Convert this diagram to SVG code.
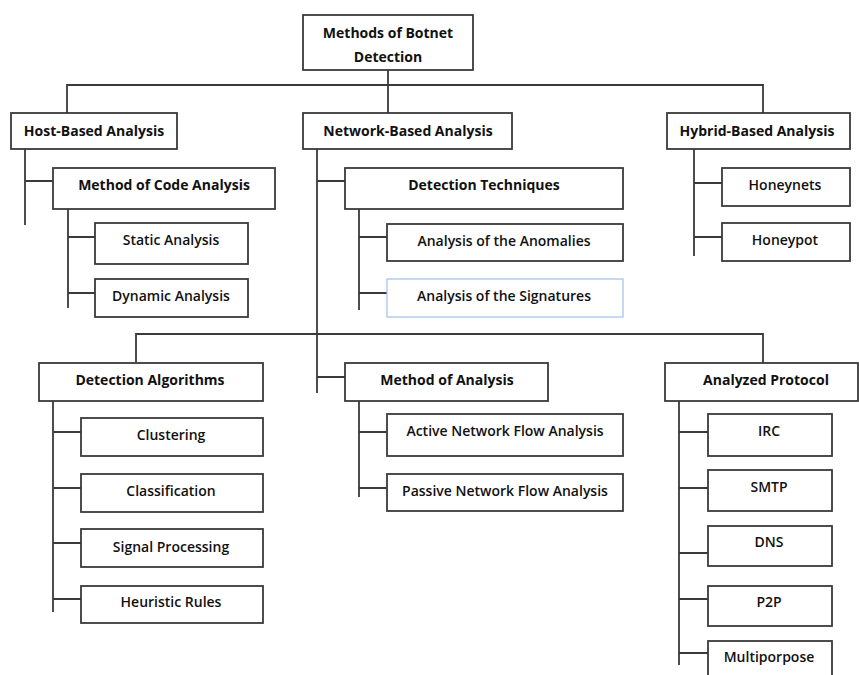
<svg xmlns="http://www.w3.org/2000/svg" width="859" height="675" viewBox="0 0 859 675">
<style>
.b{fill:#fff;stroke:#3a3a3a;stroke-width:1.8}
.s{fill:#fff;stroke:#9cc2e8;stroke-width:1.2}
.c{fill:none;stroke:#3a3a3a;stroke-width:1.8}
text{font-family:"Open Sans","Liberation Sans",sans-serif;font-size:14px;fill:#111;text-anchor:middle}
.h{font-weight:700}
.l{font-weight:600}
</style>
<rect width="859" height="675" fill="#fff"/>
<g id="connectors">
<path class="c" d="M388 70V113M67 113V85H763V113"/>
<path class="c" d="M25 149V225M25 181H53M68 209V308M68 237H95M68 293H95"/>
<path class="c" d="M317 149V393M317 181H345M359 209V310M359 237H387M359 293H387"/>
<path class="c" d="M694 149V256M694 183H722M694 237H722"/>
<path class="c" d="M136 363V334H763V363M317 377H345"/>
<path class="c" d="M53 401V612M53 432H81M53 488H81M53 543H81M53 599H81"/>
<path class="c" d="M359 401V497M359 432H387M359 488H387"/>
<path class="c" d="M679 401V665M679 432H708M679 488H708M679 553H708M679 599H708M679 653H708"/>
</g>
<g id="root"><rect class="b" x="303" y="15" width="170" height="55"/><text class="h" x="388" y="38">Methods of Botnet</text><text class="h" x="388" y="62">Detection</text></g>
<g id="host"><rect class="b" x="11" y="113" width="166" height="36"/><text class="h" x="94" y="136">Host-Based Analysis</text></g>
<g id="network"><rect class="b" x="303" y="113" width="209" height="36"/><text class="h" x="408" y="136">Network-Based Analysis</text></g>
<g id="hybrid"><rect class="b" x="667" y="113" width="183" height="36"/><text class="h" x="757" y="136">Hybrid-Based Analysis</text></g>
<g id="code"><rect class="b" x="53" y="168" width="222" height="41"/><text class="h" x="164" y="190">Method of Code Analysis</text></g>
<g id="static"><rect class="b" x="95" y="223" width="153" height="41"/><text class="l" x="171" y="245">Static Analysis</text></g>
<g id="dynamic"><rect class="b" x="95" y="279" width="153" height="38"/><text class="l" x="171" y="301">Dynamic Analysis</text></g>
<g id="techniques"><rect class="b" x="345" y="168" width="278" height="41"/><text class="h" x="484" y="190">Detection Techniques</text></g>
<g id="anomalies"><rect class="b" x="387" y="224" width="236" height="37"/><text class="l" x="504" y="246">Analysis of the Anomalies</text></g>
<g id="signatures"><rect class="s" x="387" y="279" width="236" height="38"/><text class="l" x="504" y="301">Analysis of the Signatures</text></g>
<g id="honeynets"><rect class="b" x="722" y="168" width="128" height="38"/><text class="l" x="785" y="190">Honeynets</text></g>
<g id="honeypot"><rect class="b" x="722" y="223" width="128" height="38"/><text class="l" x="785" y="245">Honeypot</text></g>
<g id="algorithms"><rect class="b" x="39" y="363" width="224" height="38"/><text class="h" x="150" y="385">Detection Algorithms</text></g>
<g id="clustering"><rect class="b" x="81" y="418" width="182" height="38"/><text class="l" x="171" y="440">Clustering</text></g>
<g id="classification"><rect class="b" x="81" y="474" width="182" height="38"/><text class="l" x="171" y="496">Classification</text></g>
<g id="signal"><rect class="b" x="81" y="529" width="182" height="38"/><text class="l" x="171" y="552">Signal Processing</text></g>
<g id="heuristic"><rect class="b" x="81" y="586" width="182" height="37"/><text class="l" x="171" y="607">Heuristic Rules</text></g>
<g id="method"><rect class="b" x="345" y="363" width="203" height="38"/><text class="h" x="447" y="385">Method of Analysis</text></g>
<g id="active"><rect class="b" x="387" y="414" width="236" height="42"/><text class="l" x="505" y="436">Active Network Flow Analysis</text></g>
<g id="passive"><rect class="b" x="387" y="474" width="236" height="37"/><text class="l" x="505" y="496">Passive Network Flow Analysis</text></g>
<g id="protocol"><rect class="b" x="665" y="363" width="193" height="38"/><text class="h" x="766" y="385">Analyzed Protocol</text></g>
<g id="irc"><rect class="b" x="708" y="414" width="124" height="42"/><text class="l" x="769" y="436">IRC</text></g>
<g id="smtp"><rect class="b" x="708" y="470" width="124" height="41"/><text class="l" x="769" y="492">SMTP</text></g>
<g id="dns"><rect class="b" x="708" y="526" width="124" height="40"/><text class="l" x="769" y="547">DNS</text></g>
<g id="p2p"><rect class="b" x="708" y="586" width="124" height="40"/><text class="l" x="769" y="607">P2P</text></g>
<g id="multi"><rect class="b" x="708" y="641" width="124" height="40"/><text class="l" x="769" y="662">Multiporpose</text></g>
</svg>
